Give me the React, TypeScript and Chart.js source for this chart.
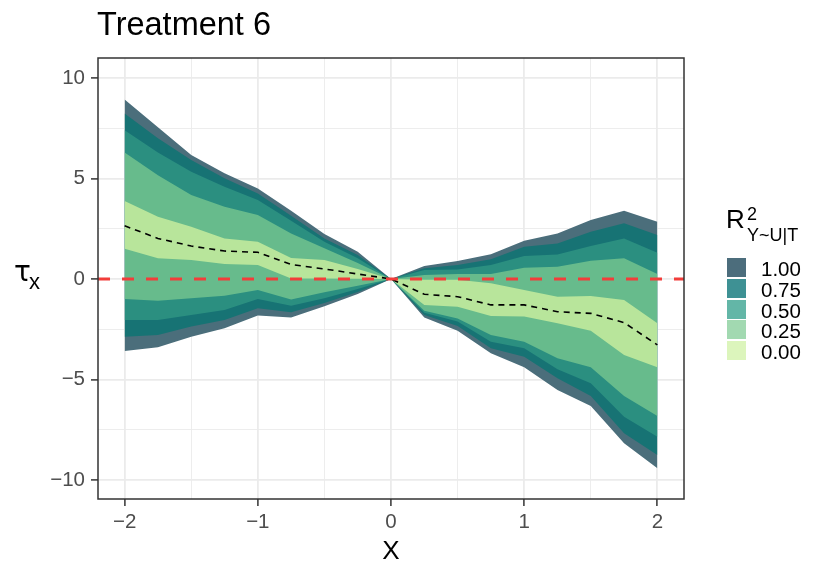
import React, { useEffect, useRef } from 'react';
import { Chart, registerables } from 'chart.js';

Chart.register(...registerables);

// x positions of the sensitivity curves
const xValues = [-2, -1.75, -1.5, -1.25, -1, -0.75, -0.5, -0.25, 0, 0.25, 0.5, 0.75, 1, 1.25, 1.5, 1.75, 2];

// point estimate (dashed black line)
const estimate = [2.65, 2.02, 1.64, 1.39, 1.33, 0.72, 0.5, 0.25, 0, -0.76, -0.88, -1.29, -1.29, -1.63, -1.71, -2.17, -3.28];

// bounds for each R^2 level
const upper000 = [3.88, 3.1, 2.6, 2.02, 1.86, 1.05, 0.95, 0.5, 0, -0.04, -0.04, -0.21, -0.55, -0.88, -0.85, -1.04, -2.2];
const lower000 = [1.51, 1.03, 0.95, 0.75, 0.7, 0.03, 0.02, 0.01, 0, -1.29, -1.38, -1.84, -1.87, -2.2, -2.57, -3.78, -4.39];
const upper025 = [6.3, 5.17, 4.18, 3.6, 3.18, 2.27, 1.53, 0.8, 0, 0.2, 0.25, 0.25, 0.56, 0.61, 0.91, 1.03, 0.25];
const lower025 = [-1.0, -1.08, -0.96, -0.83, -0.55, -1.02, -0.66, -0.34, 0, -1.58, -1.96, -2.79, -3.12, -3.95, -4.39, -5.82, -6.82];
const upper050 = [7.41, 6.3, 5.34, 4.59, 3.93, 2.9, 1.86, 1.03, 0, 0.45, 0.47, 0.7, 1.14, 1.22, 1.64, 2.02, 1.31];
const lower050 = [-2.04, -2.04, -1.79, -1.54, -1.0, -1.33, -0.96, -0.5, 0, -1.68, -2.12, -3.12, -3.45, -4.49, -5.19, -6.85, -7.85];
const upper075 = [8.24, 7.0, 5.92, 5.01, 4.26, 3.15, 2.02, 1.19, 0, 0.53, 0.7, 0.98, 1.61, 1.77, 2.35, 2.77, 2.19];
const lower075 = [-2.87, -2.79, -2.37, -2.04, -1.45, -1.66, -1.2, -0.65, 0, -1.79, -2.34, -3.45, -3.87, -4.94, -5.82, -7.68, -8.76];
const upper100 = [8.94, 7.55, 6.17, 5.26, 4.51, 3.4, 2.24, 1.36, 0, 0.65, 0.9, 1.23, 1.91, 2.27, 2.94, 3.4, 2.85];
const lower100 = [-3.58, -3.4, -2.87, -2.45, -1.82, -1.92, -1.36, -0.75, 0, -1.91, -2.57, -3.7, -4.39, -5.52, -6.32, -8.17, -9.42];

// innermost band first so it is drawn on top
const bandUppers = [upper000, upper025, upper050, upper075, upper100];
const bandLowers = [lower000, lower025, lower050, lower075, lower100];
const bandColors = ['#b8e59b', '#67bb8c', '#2b8f80', '#177374', '#4b6e7b'];

const legendLabels = ['1.00', '0.75', '0.50', '0.25', '0.00'];
const legendColors = ['#4c6d7c', '#3e9194', '#63b6a7', '#a2d9b1', '#dcf5bc'];

const xGrid = [-2, -1.5, -1, -0.5, 0, 0.5, 1, 1.5, 2];
const yGrid = [-10, -7.5, -5, -2.5, 0, 2.5, 5, 7.5, 10];

const FONT = '"Liberation Sans", Arial, sans-serif';

const fmt = (v: number) => (v < 0 ? '\u2212' + Math.abs(v) : String(v));
const pts = (arr: number[]) => xValues.map((x, i) => ({ x, y: arr[i] }));

const panelBorder = {
	id: 'panelBorder',
	afterDatasetsDraw(chart: Chart) {
		const { ctx, chartArea: a } = chart;
		ctx.save();
		ctx.strokeStyle = '#333333';
		ctx.lineWidth = 1.5;
		ctx.strokeRect(a.left, a.top, a.right - a.left, a.bottom - a.top);
		ctx.restore();
	},
};

const ChartCanvas: React.FC = () => {
	const canvas = useRef<HTMLCanvasElement>(null!);

	useEffect(() => {
		const bands: any[] = [];
		bandUppers.forEach((up, k) => {
			bands.push({
				data: pts(up),
				fill: '+1',
				backgroundColor: bandColors[k],
				borderColor: 'rgba(0,0,0,0)',
				borderWidth: 0,
				pointRadius: 0,
			});
			bands.push({
				data: pts(bandLowers[k]),
				fill: false,
				borderColor: 'rgba(0,0,0,0)',
				borderWidth: 0,
				pointRadius: 0,
			});
		});

		const chart = new Chart(canvas.current, {
			type: 'line',
			data: {
				datasets: [
					{
						data: [{ x: -2.2, y: 0 }, { x: 2.2, y: 0 }],
						borderColor: '#f23d3a',
						borderWidth: 3,
						borderDash: [12, 12],
						pointRadius: 0,
						fill: false,
					},
					{
						data: pts(estimate),
						borderColor: '#000000',
						borderWidth: 1.6,
						borderDash: [6, 5],
						pointRadius: 0,
						fill: false,
					},
					...bands,
				],
			},
			options: {
				animation: false,
				responsive: true,
				maintainAspectRatio: false,
				layout: { padding: { left: 0, top: 58, right: 146, bottom: 0 } },
				plugins: {
					legend: { display: false },
					tooltip: { enabled: false },
				},
				scales: {
					x: {
						type: 'linear',
						min: -2.2,
						max: 2.2,
						afterBuildTicks: (s: any) => { s.ticks = xGrid.map(v => ({ value: v })); },
						afterFit: (s: any) => { s.height = 81; },
						border: { display: false },
						grid: {
							color: '#ebebeb',
							lineWidth: (c: any) => (Number.isInteger(c.tick?.value) ? 1.8 : 0.9),
							tickLength: 7,
							tickWidth: 1.5,
							tickColor: (c: any) => (Number.isInteger(c.tick?.value) ? '#333333' : 'rgba(0,0,0,0)'),
						},
						ticks: {
							padding: 4,
							color: '#4d4d4d',
							font: { family: FONT, size: 20.5 },
							maxRotation: 0,
							autoSkip: false,
							callback: (v: any) => (Number.isInteger(v) ? fmt(v) : ''),
						},
					},
					y: {
						type: 'linear',
						min: -10.95,
						max: 11,
						afterBuildTicks: (s: any) => { s.ticks = yGrid.map(v => ({ value: v })); },
						afterFit: (s: any) => { s.width = 98; },
						border: { display: false },
						grid: {
							color: '#ebebeb',
							lineWidth: (c: any) => (c.tick && c.tick.value % 5 === 0 ? 1.8 : 0.9),
							tickLength: 7,
							tickWidth: 1.5,
							tickColor: (c: any) => (c.tick && c.tick.value % 5 === 0 ? '#333333' : 'rgba(0,0,0,0)'),
						},
						ticks: {
							padding: 6,
							color: '#4d4d4d',
							font: { family: FONT, size: 20.5 },
							autoSkip: false,
							callback: (v: any) => (v % 5 === 0 ? fmt(v) : ''),
						},
					},
				},
			},
			plugins: [panelBorder],
		} as any);

		return () => {
			chart.destroy();
		};
	}, []);

	return <canvas ref={canvas}></canvas>;
};

// place text by its baseline (line-height equal to font size)
const Txt: React.FC<{ x: number; base: number; size: number; center?: boolean; family?: string; children: React.ReactNode }> = ({ x, base, size, center, family, children }) => (
	<div style={{
		position: 'absolute',
		left: x,
		top: base - 0.8465 * size,
		fontSize: size,
		lineHeight: `${size}px`,
		fontFamily: family || FONT,
		color: '#000',
		whiteSpace: 'nowrap',
		transform: center ? 'translateX(-50%)' : undefined,
	}}>{children}</div>
);

export default function App() {
	return (
		<div style={{ position: 'absolute', left: 0, top: 0, width: 830, height: 580, background: '#fff' }}>
			<div style={{ position: 'absolute', left: 0, top: 0, width: 830, height: 580 }}>
				<ChartCanvas />
			</div>
			<Txt x={97} base={36} size={32.5}>Treatment 6</Txt>
			<Txt x={391} base={559} size={26} center>X</Txt>
			<Txt x={14} base={282} size={28} family='"DejaVu Sans", sans-serif'>τ</Txt>
			<Txt x={29} base={290} size={22}>x</Txt>
			<Txt x={726} base={228} size={26}>R</Txt>
			<Txt x={747} base={220} size={18}>2</Txt>
			<Txt x={747} base={241} size={18}>Y~U|T</Txt>
			{legendLabels.map((label, i) => {
				const top = 258 + i * 20.75;
				return (
					<React.Fragment key={label}>
						<div style={{ position: 'absolute', left: 727, top, width: 19, height: 19, background: legendColors[i] }} />
						<Txt x={761} base={top + 18.5} size={20.5}>{label}</Txt>
					</React.Fragment>
				);
			})}
		</div>
	);
}
